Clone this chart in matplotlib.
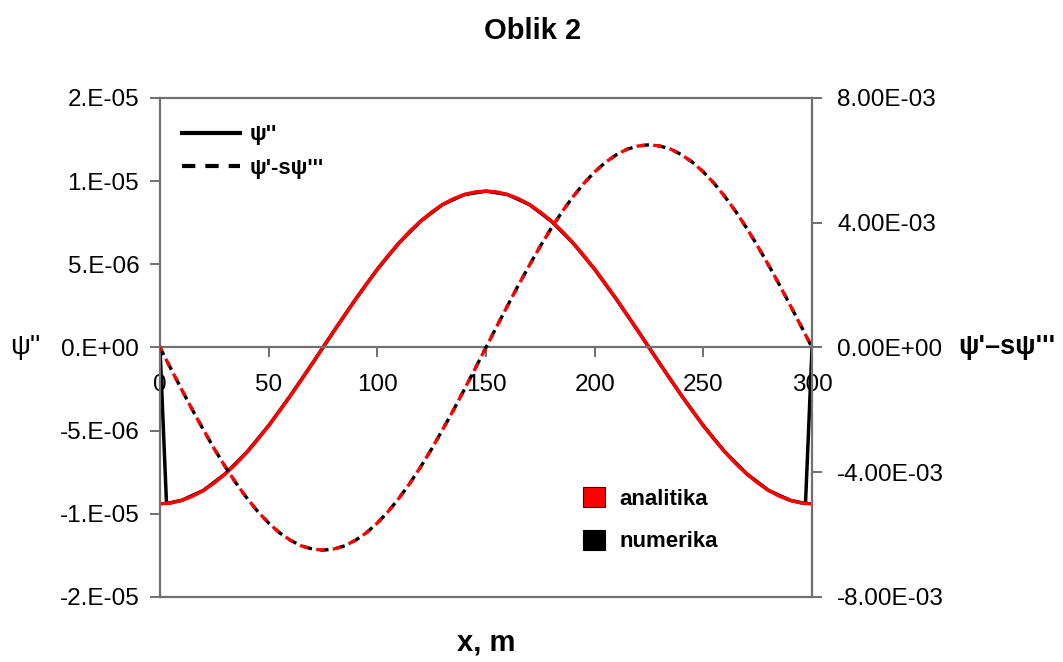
import matplotlib.pyplot as plt
from matplotlib.lines import Line2D
from matplotlib.patches import Patch

plt.rcParams['font.family'] = ['Liberation Sans', 'DejaVu Sans']

# x positions, m
x = [0, 5, 10, 15, 20, 25, 30, 35, 40, 45, 50, 55, 60, 65, 70, 75, 80, 85, 90, 95,
     100, 105, 110, 115, 120, 125, 130, 135, 140, 145, 150, 155, 160, 165, 170, 175,
     180, 185, 190, 195, 200, 205, 210, 215, 220, 225, 230, 235, 240, 245, 250, 255,
     260, 265, 270, 275, 280, 285, 290, 295, 300]

# psi'' analytic, in 1e-6 (left axis)
psi2_analytic = [-9.40, -9.35, -9.19, -8.94, -8.59, -8.14, -7.60, -6.99, -6.29, -5.53,
                 -4.70, -3.82, -2.90, -1.95, -0.98, 0.00, 0.98, 1.95, 2.90, 3.82,
                 4.70, 5.53, 6.29, 6.99, 7.60, 8.14, 8.59, 8.94, 9.19, 9.35,
                 9.40, 9.35, 9.19, 8.94, 8.59, 8.14, 7.60, 6.99, 6.29, 5.53,
                 4.70, 3.82, 2.90, 1.95, 0.98, 0.00, -0.98, -1.95, -2.90, -3.82,
                 -4.70, -5.53, -6.29, -6.99, -7.60, -8.14, -8.59, -8.94, -9.19, -9.35,
                 -9.40]

# psi' - s psi''' analytic, in 1e-3 (right axis)
combo_analytic = [0.00, -0.68, -1.35, -2.01, -2.64, -3.25, -3.82, -4.35, -4.83, -5.26,
                  -5.63, -5.94, -6.18, -6.36, -6.46, -6.50, -6.46, -6.36, -6.18, -5.94,
                  -5.63, -5.26, -4.83, -4.35, -3.82, -3.25, -2.64, -2.01, -1.35, -0.68,
                  0.00, 0.68, 1.35, 2.01, 2.64, 3.25, 3.82, 4.35, 4.83, 5.26,
                  5.63, 5.94, 6.18, 6.36, 6.46, 6.50, 6.46, 6.36, 6.18, 5.94,
                  5.63, 5.26, 4.83, 4.35, 3.82, 3.25, 2.64, 2.01, 1.35, 0.68,
                  0.00]

# numeric solution (drops to zero at the supports)
x_num = [0, 3, 10, 20, 30, 40, 50, 60, 70, 80, 90, 100, 110, 120, 130, 140, 150,
         160, 170, 180, 190, 200, 210, 220, 230, 240, 250, 260, 270, 280, 290, 297, 300]
psi2_numeric = [0.00, -9.38, -9.19, -8.59, -7.60, -6.29, -4.70, -2.90, -0.98, 0.98,
                2.90, 4.70, 6.29, 7.60, 8.59, 9.19, 9.40, 9.19, 8.59, 7.60,
                6.29, 4.70, 2.90, 0.98, -0.98, -2.90, -4.70, -6.29, -7.60, -8.59,
                -9.19, -9.38, 0.00]
combo_numeric = list(combo_analytic)  # lies on top of the analytic curve

xticks = [0, 50, 100, 150, 200, 250, 300]
left_ticks = [-1.5e-5, -1e-5, -5e-6, 0, 5e-6, 1e-5, 1.5e-5]
left_labels = ['-2.E-05', '-1.E-05', '-5.E-06', '0.E+00', '5.E-06', '1.E-05', '2.E-05']
right_ticks = [-8e-3, -4e-3, 0, 4e-3, 8e-3]
right_labels = ['-8.00E-03', '-4.00E-03', '0.00E+00', '4.00E-03', '8.00E-03']

gray = '#707070'

fig = plt.figure(figsize=(10.63, 6.62), dpi=100)
ax = fig.add_axes([0.1505, 0.0982, 0.6134, 0.7538])
ax2 = ax.twinx()

ax.plot(x_num, [v * 1e-6 for v in psi2_numeric], color='black', lw=2.5)
ax.plot(x, [v * 1e-6 for v in psi2_analytic], color='red', lw=2.5)

ax2.plot(x, [v * 1e-3 for v in combo_numeric], color='black', lw=2.4,
         linestyle=(0, (2.5, 2.5)))
ax2.plot(x, [v * 1e-3 for v in combo_analytic], color='red', lw=2.4,
         linestyle=(1.2, (2.5, 2.5)))

ax.set_xlim(0, 300)
ax.set_ylim(-1.5e-5, 1.5e-5)
ax2.set_ylim(-8e-3, 8e-3)

ax.set_xticks(xticks)
ax.set_yticks(left_ticks)
ax.set_yticklabels(left_labels)
ax2.set_yticks(right_ticks)
ax2.set_yticklabels(right_labels)

ax.spines['bottom'].set_position(('data', 0))
ax.spines['top'].set_visible(False)
ax.spines['right'].set_visible(False)
ax2.spines['left'].set_visible(False)
for sp in list(ax.spines.values()) + list(ax2.spines.values()):
    sp.set_color(gray)
    sp.set_linewidth(1.6)

ax.tick_params(axis='x', direction='out', length=7, width=1.4, color=gray,
               labelsize=17.5, pad=12)
ax.tick_params(axis='y', direction='out', length=7, width=1.4, color=gray,
               labelsize=17.5, pad=8)
ax2.tick_params(axis='y', direction='out', length=7, width=1.4, color=gray,
                labelsize=17.5, pad=11)

ax.set_ylabel("ψ''", rotation=0, fontsize=20, ha='center', va='center')
ax.yaxis.set_label_coords(-0.207, 0.5)
ax2.set_ylabel("ψ'–sψ'''", rotation=0, fontsize=19.5, fontweight='bold',
               ha='center', va='center')
ax2.yaxis.set_label_coords(1.299, 0.5)

fig.text(0.501, 0.953, 'Oblik 2', fontsize=21, fontweight='bold', ha='center', va='center')
fig.text(0.457, 0.030, 'x, m', fontsize=21, fontweight='bold', ha='center', va='center')

h1 = [Line2D([], [], color='black', lw=3),
      Line2D([], [], color='black', lw=3, linestyle=(0, (3.2, 2.4)))]
fig.legend(h1, ["ψ''", "ψ'-sψ'''"], loc='upper left', bbox_to_anchor=(0.171, 0.812),
           frameon=False, borderpad=0, borderaxespad=0, handlelength=2.6,
           handletextpad=0.45, labelspacing=0.55, prop={'size': 16, 'weight': 'bold'})

h2 = [Patch(facecolor='red', edgecolor='#400000', lw=0.8),
      Patch(facecolor='black', edgecolor='black', lw=0.8)]
fig.legend(h2, ['analitika', 'numerika'], loc='upper left', bbox_to_anchor=(0.548, 0.264),
           frameon=False, borderpad=0, borderaxespad=0, handlelength=1.0, handleheight=1.0,
           handletextpad=0.68, labelspacing=0.9, prop={'size': 16, 'weight': 'bold'})

fig.savefig('out.png', dpi=100)
